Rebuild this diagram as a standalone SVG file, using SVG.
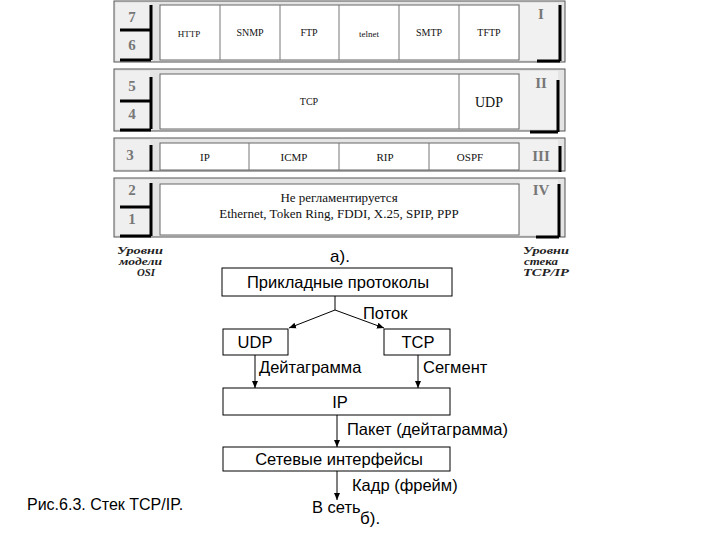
<svg xmlns="http://www.w3.org/2000/svg" width="720" height="540" viewBox="0 0 720 540">
<defs>
<style>
.outer{fill:#e4e4e4;stroke:#555;stroke-width:1}
.num{fill:#efefef;stroke:none}
.inner{fill:#fff;stroke:#666;stroke-width:1}
.rcell{fill:#f1f1f1;stroke:none}
.blk{stroke:#000;stroke-width:3;fill:none}
.cell{fill:none;stroke:#777;stroke-width:1}
.n{font-family:"Liberation Serif",serif;font-weight:bold;font-size:15px;fill:#777;text-anchor:middle}
.p{font-family:"Liberation Serif",serif;font-size:10px;fill:#111;text-anchor:middle}
.p13{font-family:"Liberation Serif",serif;font-size:13px;fill:#111;text-anchor:middle}
.it{font-family:"Liberation Serif",serif;font-style:italic;font-weight:bold;font-size:10px;fill:#222}
.box{fill:#fff;stroke:#000;stroke-width:1}
.t{font-family:"Liberation Sans",Arial,sans-serif;font-size:16.5px;fill:#000;text-anchor:middle}
.tl{font-family:"Liberation Sans",Arial,sans-serif;font-size:16.5px;fill:#000}
.ln{stroke:#000;stroke-width:1;fill:none}
</style>
<marker id="ah" markerWidth="8" markerHeight="8" refX="7" refY="4" orient="auto" markerUnits="userSpaceOnUse">
<path d="M0,1 L7,4 L0,7 Z" fill="#000"/>
</marker>
</defs>

<g id="band1">
<rect class="outer" x="114" y="1" width="451" height="61"/>
<rect class="num" x="116" y="3" width="34" height="57"/>
<rect class="inner" x="160" y="5" width="359" height="55"/>
<rect class="rcell" x="520" y="3" width="38" height="57"/>
<path class="blk" d="M151,5 V60 M120,30 H151 M120,60 H151"/>
<path class="blk" d="M560,5 V61 M537,61 H560"/>
<path class="cell" d="M220,5 V60 M280,5 V60 M339,5 V60 M399,5 V60 M459,5 V60"/>
<text class="n" x="132" y="22">7</text>
<text class="n" x="132" y="50">6</text>
<text class="n" x="541" y="19">I</text>
<text class="p" x="189" y="37" style="font-size:9px">HTTP</text>
<text class="p" x="250" y="36">SNMP</text>
<text class="p" x="309" y="36">FTP</text>
<text class="p" x="369" y="37" style="font-size:9px">telnet</text>
<text class="p" x="429" y="36">SMTP</text>
<text class="p" x="489" y="36">TFTP</text>
</g>

<g id="band2">
<rect class="outer" x="114" y="69" width="451" height="62"/>
<rect class="num" x="116" y="71" width="34" height="58"/>
<rect class="inner" x="160" y="74" width="359" height="55"/>
<rect class="rcell" x="520" y="71" width="38" height="58"/>
<path class="blk" d="M151,77 V129 M120,101 H151 M120,130 H151"/>
<path class="blk" d="M558,80 V132 M530,132 H558"/>
<path class="cell" d="M459,74 V129"/>
<text class="n" x="132" y="91">5</text>
<text class="n" x="132" y="119">4</text>
<text class="n" x="541" y="88">II</text>
<text class="p" x="309" y="105">TCP</text>
<text class="p" x="489" y="107" style="font-size:14px">UDP</text>
</g>

<g id="band3">
<rect class="outer" x="114" y="138" width="451" height="33"/>
<rect class="num" x="116" y="140" width="34" height="29"/>
<rect class="inner" x="160" y="143" width="359" height="27"/>
<rect class="rcell" x="520" y="140" width="38" height="29"/>
<path class="blk" d="M151,145 V171"/>
<path class="blk" d="M560,146 V172"/>
<path class="cell" d="M249,143 V170 M339,143 V170 M429,143 V170"/>
<text class="n" x="130" y="160">3</text>
<text class="n" x="541" y="161">III</text>
<text class="p" x="205" y="161" style="font-size:11px">IP</text>
<text class="p" x="294" y="161" style="font-size:11px">ICMP</text>
<text class="p" x="385" y="161" style="font-size:11px">RIP</text>
<text class="p" x="470" y="161" style="font-size:11px">OSPF</text>
</g>

<g id="band4">
<rect class="outer" x="114" y="178" width="451" height="59"/>
<rect class="num" x="116" y="180" width="34" height="55"/>
<rect class="inner" x="160" y="184" width="359" height="51"/>
<rect class="rcell" x="520" y="180" width="38" height="55"/>
<path class="blk" d="M151,183 V236 M120,207 H151 M120,236 H151"/>
<path class="blk" d="M559,184 V237 M536,237 H559"/>
<text class="n" x="132" y="195">2</text>
<text class="n" x="132" y="224">1</text>
<text class="n" x="541" y="195">IV</text>
<text class="p13" x="339" y="202">Не регламентируется</text>
<text class="p13" x="339" y="218">Ethernet, Token Ring, FDDI, X.25, SPIP, PPP</text>
</g>

<g id="labels-a">
<text class="it" x="117" y="254" textLength="46" lengthAdjust="spacingAndGlyphs">Уровни</text>
<text class="it" x="119" y="265" textLength="43" lengthAdjust="spacingAndGlyphs">модели</text>
<text class="it" x="137" y="276" textLength="18" lengthAdjust="spacingAndGlyphs">OSI</text>
<text class="it" x="523" y="254" textLength="46" lengthAdjust="spacingAndGlyphs">Уровни</text>
<text class="it" x="524" y="265" textLength="34" lengthAdjust="spacingAndGlyphs">стека</text>
<text class="it" x="523" y="276" textLength="46" lengthAdjust="spacingAndGlyphs">TCP/IP</text>
<text class="t" x="340" y="262" style="font-size:17px">а).</text>
</g>

<g id="n-app">
<rect class="box" x="222" y="268" width="230" height="28"/>
<text class="t" x="338" y="288">Прикладные протоколы</text>
</g>
<g id="n-udp">
<rect class="box" x="223" y="329" width="65" height="26"/>
<text class="t" x="255" y="348">UDP</text>
</g>
<g id="n-tcp">
<rect class="box" x="384" y="329" width="66" height="26"/>
<text class="t" x="418" y="348">TCP</text>
</g>
<g id="n-ip">
<rect class="box" x="223" y="388" width="227" height="27"/>
<text class="t" x="340" y="408">IP</text>
</g>
<g id="n-net">
<rect class="box" x="223" y="447" width="227" height="24"/>
<text class="t" x="339" y="465">Сетевые интерфейсы</text>
</g>

<g id="connectors">
<path class="ln" d="M335,296 V310"/>
<path class="ln" d="M335,310 L289,328" marker-end="url(#ah)"/>
<path class="ln" d="M335,310 L384,328" marker-end="url(#ah)"/>
<path class="ln" d="M255,355 V388" marker-end="url(#ah)"/>
<path class="ln" d="M418,355 V388" marker-end="url(#ah)"/>
<path class="ln" d="M337,415 V447" marker-end="url(#ah)"/>
<path class="ln" d="M337,471 V500" marker-end="url(#ah)"/>
<text class="tl" x="363" y="319">Поток</text>
<text class="tl" x="259" y="373">Дейтаграмма</text>
<text class="tl" x="423" y="373">Сегмент</text>
<text class="tl" x="347" y="435">Пакет (дейтаграмма)</text>
<text class="tl" x="352" y="491">Кадр (фрейм)</text>
<text class="tl" x="312" y="513">В сеть</text>
<text class="tl" x="360" y="524" style="font-size:17px">б).</text>
</g>

<text class="tl" x="27" y="510" style="font-size:16px">Рис.6.3. Стек TCP/IP.</text>
</svg>
